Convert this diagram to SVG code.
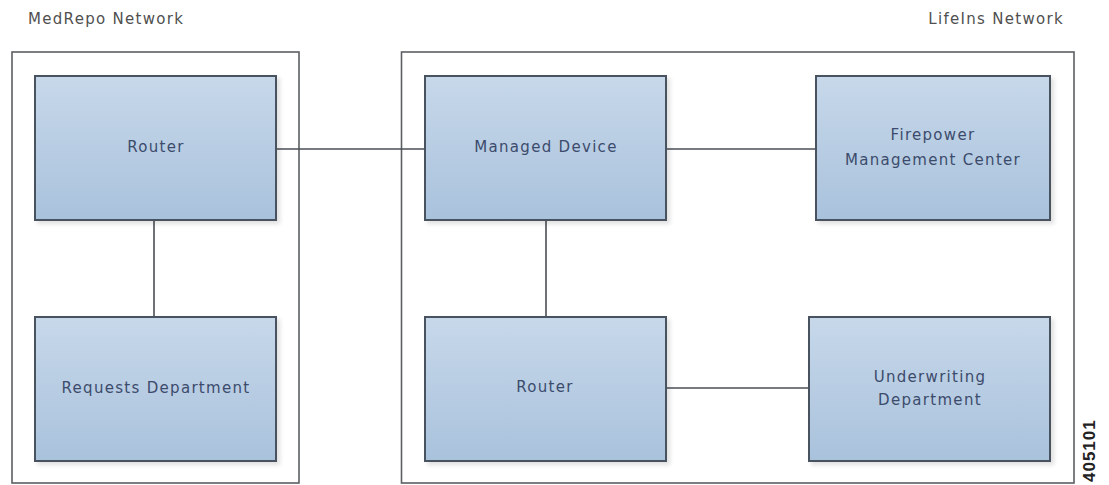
<svg xmlns="http://www.w3.org/2000/svg" width="1109" height="485" viewBox="0 0 1109 485">
<style>
.bg{fill:#ffffff}
.zone{fill:#ffffff;stroke:#5c5f63;stroke-width:1.6}
.node{fill:url(#nodeFill);stroke:#4a5360;stroke-width:2;filter:url(#shadow)}
.lbl{font-family:"DejaVu Sans",sans-serif;font-size:15px;letter-spacing:1.3px;fill:#3c4b6c;text-anchor:middle}
.zlbl{font-family:"DejaVu Sans",sans-serif;font-size:15px;letter-spacing:1.3px;fill:#505050}
.conn{stroke:#4a4f55;stroke-width:1.6;fill:none}
.fig{font-family:"Liberation Sans",sans-serif;font-size:17px;font-weight:bold;letter-spacing:1px;fill:#222}
</style>
<defs>
<linearGradient id="nodeFill" x1="0" y1="0" x2="0" y2="1">
<stop offset="0" stop-color="#c7d8ea"/>
<stop offset="1" stop-color="#a9c2dc"/>
</linearGradient>
<filter id="shadow" x="-5%" y="-5%" width="115%" height="115%">
<feDropShadow dx="3" dy="3" stdDeviation="2" flood-color="#000" flood-opacity="0.12"/>
</filter>
</defs>
<rect class="bg" x="0" y="0" width="1109" height="485"/>
<g id="zone-medrepo">
<rect class="zone" x="12" y="52" width="287" height="431"/>
<text class="zlbl" x="28" y="24">MedRepo Network</text>
</g>
<g id="zone-lifeins">
<rect class="zone" x="401.5" y="52" width="672.5" height="431"/>
<text class="zlbl" x="1064" y="24" text-anchor="end">LifeIns Network</text>
</g>
<g id="connectors">
<line class="conn" x1="276" y1="149" x2="425" y2="149"/>
<line class="conn" x1="666" y1="149" x2="816" y2="149"/>
<line class="conn" x1="154" y1="220" x2="154" y2="317"/>
<line class="conn" x1="546" y1="220" x2="546" y2="317"/>
<line class="conn" x1="666" y1="388" x2="809" y2="388"/>
</g>
<g id="node-router1">
<rect class="node" x="35" y="76" width="241" height="144"/>
<text class="lbl" x="156" y="152">Router</text>
</g>
<g id="node-requests">
<rect class="node" x="35" y="317" width="241" height="144"/>
<text class="lbl" x="156" y="393">Requests Department</text>
</g>
<g id="node-managed">
<rect class="node" x="425" y="76" width="241" height="144"/>
<text class="lbl" x="546" y="152">Managed Device</text>
</g>
<g id="node-router2">
<rect class="node" x="425" y="317" width="241" height="144"/>
<text class="lbl" x="545" y="392">Router</text>
</g>
<g id="node-fmc">
<rect class="node" x="816" y="76" width="234" height="144"/>
<text class="lbl" x="933" y="140">Firepower</text>
<text class="lbl" x="933" y="165">Management Center</text>
</g>
<g id="node-underwriting">
<rect class="node" x="809" y="317" width="241" height="144"/>
<text class="lbl" x="930" y="382">Underwriting</text>
<text class="lbl" x="930" y="405">Department</text>
</g>
<text class="fig" transform="translate(1095,482) rotate(-90)">405101</text>
</svg>
